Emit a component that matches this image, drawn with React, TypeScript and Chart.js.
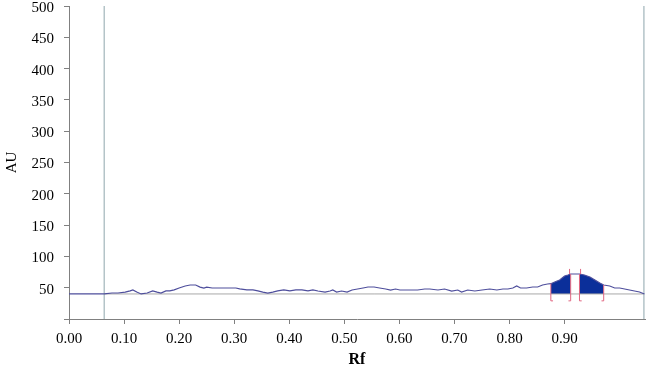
import React, { useEffect, useRef } from "react";
import { Chart, registerables } from "chart.js";

Chart.register(...registerables);

// Densitogram trace (Rf, AU)
const traceRf = [
  0.0, 0.064, 0.078, 0.089, 0.102, 0.111, 0.116, 0.123, 0.131, 0.142, 0.152, 0.16, 0.167, 0.176,
  0.183, 0.191, 0.2, 0.211, 0.22, 0.23, 0.238, 0.245, 0.25, 0.26, 0.274, 0.292, 0.303, 0.31,
  0.323, 0.334, 0.343, 0.352, 0.361, 0.37, 0.379, 0.39, 0.401, 0.412, 0.423, 0.434, 0.443,
  0.452, 0.465, 0.474, 0.479, 0.486, 0.495, 0.505, 0.514, 0.524, 0.534, 0.543, 0.554, 0.564,
  0.575, 0.584, 0.593, 0.601, 0.61, 0.623, 0.633, 0.646, 0.655, 0.67, 0.682, 0.695, 0.706,
  0.713, 0.724, 0.737, 0.75, 0.764, 0.777, 0.788, 0.797, 0.806, 0.813, 0.82, 0.831, 0.842,
  0.851, 0.86, 0.869, 0.875, 0.882, 0.891, 0.9, 0.906, 0.911, 0.918, 0.927, 0.936, 0.946,
  0.955, 0.964, 0.971, 0.982, 0.991, 1.0, 1.009, 1.018, 1.027, 1.036, 1.045,
];
const traceAU = [
  40, 40, 41.5, 41.5, 43, 45, 46.5, 43, 40, 41.5, 45, 43, 41.5, 45,
  45, 46.5, 49.5, 52.7, 54.3, 54.3, 51, 49.5, 51, 49.5, 49.5, 49.5, 49.5, 48,
  46.5, 46.5, 45, 43, 41.5, 43, 45, 46.5, 45, 46.5, 46.5, 45, 46.5,
  44.7, 43.1, 44.7, 46.3, 43.1, 44.7, 43.1, 46.3, 47.9, 49.5, 51.1, 51.1, 49.5,
  47.9, 46.3, 47.9, 46.3, 46.3, 46.3, 46.3, 47.9, 47.9, 46.3, 47.9, 44.7, 46.3,
  43.1, 46.3, 44.7, 46.3, 47.9, 46.3, 47.9, 47.9, 49.5, 52.7, 49.5, 49.5, 51.1,
  51.1, 54.3, 55.9, 56.4, 59.1, 62.3, 68.7, 70.3, 71.9, 71.9, 71.9, 70.3, 67.1,
  62.3, 57.5, 54.3, 52.7, 49.5, 49.5, 47.9, 46.3, 44.7, 43.1, 40,
];

// Integrated peaks (filled to the baseline)
const peak1Rf = [0.875, 0.882, 0.891, 0.9, 0.906, 0.911];
const peak1AU = [56.4, 59.1, 62.3, 68.7, 70.3, 71.9];
const peak2Rf = [0.927, 0.936, 0.946, 0.955, 0.964, 0.971];
const peak2AU = [71.9, 70.3, 67.1, 62.3, 57.5, 54.3];
const baselineAU = 40;

// Peak start/end markers
const markerRf = [0.875, 0.911, 0.927, 0.971];
const markerTopAU = [56.4, 71.9, 71.9, 54.3];
const markerFootDir = [1, -1, 1, -1];
const markerBottomAU = 29;
const apexRf = [0.909, 0.929];
const apexTopAU = 80;

// Vertical reference lines (application / front)
const startRf = 0.064;
const frontRf = 1.044;

const xTicks = [0, 0.1, 0.2, 0.3, 0.4, 0.5, 0.6, 0.7, 0.8, 0.9];
const xMax = 1.046;
const yMax = 500;
const yStep = 50;

export default function App() {
  const ref = useRef<HTMLCanvasElement | null>(null);

  useEffect(() => {
    document.body.style.margin = "0";
    document.body.style.background = "#ffffff";
    const canvas = ref.current;
    if (!canvas) return;

    const trace = traceRf.map((x, i) => ({ x, y: traceAU[i] }));
    const p1 = peak1Rf.map((x, i) => ({ x, y: peak1AU[i] }));
    const p2 = peak2Rf.map((x, i) => ({ x, y: peak2AU[i] }));

    const markers: any[] = [];
    markerRf.forEach((x, i) => {
      markers.push({ x: x + 0.004 * markerFootDir[i], y: markerBottomAU });
      markers.push({ x, y: markerBottomAU });
      markers.push({ x, y: markerTopAU[i] });
      markers.push({ x, y: null });
    });
    apexRf.forEach((x, i) => {
      const idx = i === 0 ? 1 : 2;
      markers.push({ x, y: markerTopAU[idx] });
      markers.push({ x, y: apexTopAU });
      markers.push({ x, y: null });
    });

    const refLines = [
      { x: startRf, y: 0 },
      { x: startRf, y: yMax },
      { x: startRf, y: null },
      { x: frontRf, y: 0 },
      { x: frontRf, y: yMax },
    ];
    const base = [
      { x: startRf, y: baselineAU },
      { x: frontRf, y: baselineAU },
    ];

    const font = "'Liberation Serif', 'Times New Roman', serif";

    const chart = new Chart(canvas, {
      type: "line",
      data: {
        datasets: [
          {
            data: p1 as any,
            borderWidth: 0,
            borderColor: "rgba(0,0,0,0)",
            backgroundColor: "#0b2f9a",
            fill: { value: baselineAU } as any,
            pointRadius: 0,
            order: 5,
          },
          {
            data: p2 as any,
            borderWidth: 0,
            borderColor: "rgba(0,0,0,0)",
            backgroundColor: "#0b2f9a",
            fill: { value: baselineAU } as any,
            pointRadius: 0,
            order: 5,
          },
          {
            data: refLines as any,
            borderColor: "#b4c4c8",
            borderWidth: 1.5,
            pointRadius: 0,
            fill: false,
            spanGaps: false,
            order: 6,
          },
          {
            data: base as any,
            borderColor: "#a8a8a8",
            borderWidth: 1,
            pointRadius: 0,
            fill: false,
            order: 4,
          },
          {
            data: trace as any,
            borderColor: "#4e4e9c",
            borderWidth: 1.2,
            pointRadius: 0,
            fill: false,
            tension: 0,
            order: 2,
          },
          {
            data: markers as any,
            borderColor: "#e06680",
            borderWidth: 1,
            pointRadius: 0,
            fill: false,
            spanGaps: false,
            order: 1,
          },
        ],
      },
      options: {
        animation: false,
        responsive: false,
        maintainAspectRatio: false,
        layout: { padding: { top: 6, right: 3, left: 0, bottom: 0 } },
        plugins: { legend: { display: false }, tooltip: { enabled: false } },
        scales: {
          x: {
            type: "linear",
            min: 0,
            max: xMax,
            afterBuildTicks: (s: any) => {
              s.ticks = xTicks.map((v) => ({ value: v }));
            },
            afterFit: (s: any) => {
              s.height = 57;
              s.paddingLeft = 0;
              s.paddingRight = 0;
            },
            grid: {
              drawOnChartArea: false,
              drawTicks: true,
              tickLength: 5,
              color: "#808080",
            },
            border: { color: "#808080", width: 1 },
            ticks: {
              color: "#000",
              font: { family: font, size: 15 },
              padding: 6,
              maxRotation: 0,
              autoSkip: false,
              callback: (v: any) => Number(v).toFixed(2),
            },
            title: {
              display: true,
              text: "Rf",
              color: "#000",
              font: { family: font, size: 16, weight: "bold" },
              padding: { top: 4, bottom: 7 },
            },
          },
          y: {
            type: "linear",
            min: 0,
            max: yMax,
            afterFit: (s: any) => {
              s.width = 69;
              s.paddingTop = 0;
              s.paddingBottom = 0;
            },
            grid: {
              drawOnChartArea: false,
              drawTicks: true,
              tickLength: 5,
              color: "#808080",
            },
            border: { color: "#808080", width: 1 },
            ticks: {
              stepSize: yStep,
              color: "#000",
              font: { family: font, size: 15 },
              padding: 10,
              labelOffset: 2,
              callback: (v: any) => (Number(v) === 0 ? "" : String(v)),
            },
            title: {
              display: true,
              text: "AU",
              color: "#000",
              font: { family: font, size: 15 },
              padding: { top: 3, bottom: 0 },
            },
          },
        },
      },
    });

    return () => chart.destroy();
  }, []);

  return <canvas ref={ref} width={648} height={376} style={{ display: "block" }} />;
}
